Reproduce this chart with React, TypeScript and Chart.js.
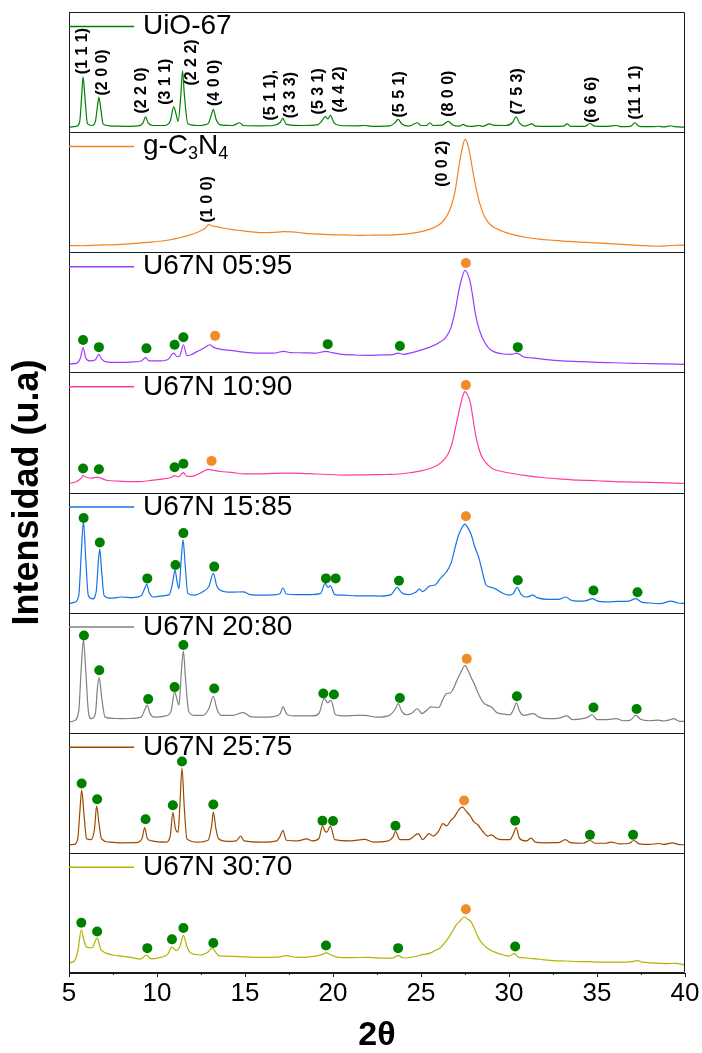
import React, { useEffect, useRef } from "react";
import { Chart, registerables } from "chart.js";

Chart.register(...registerables);

type Pt = [number, number];
type Lbl = [string, number, number];

// ---------- axis / layout constants ----------
const X_MIN = 5;
const X_MAX = 40;
const X_STEP = 5;
const X_MINOR_TICKS = [7.5, 12.5, 17.5, 22.5, 27.5, 32.5, 37.5];
const PANEL_SPAN = 100;
const LEGEND_Y = 88;
const LEGEND_LINE_END = 8.7;
const LEGEND_TEXT_X = 9.2;

// ---------- series (2θ, intensity in % of panel height) ----------
const UIO67: Pt[] = [
  [5.0, 4.2], [5.4, 4.8], [5.6, 8], [5.72, 30], [5.8, 46], [5.9, 30], [6.05, 7], [6.3, 5.5], [6.5, 9], [6.62, 22], [6.7, 29], [6.8, 20], [6.95, 6.5],
  [7.5, 5], [8.2, 4.8], [8.9, 5.2], [9.2, 7.5], [9.35, 12.8], [9.5, 7.5], [9.8, 5.5], [10.4, 5.5], [10.75, 9], [10.95, 21], [11.1, 14], [11.2, 9],
  [11.35, 30], [11.45, 51], [11.55, 32], [11.75, 7], [12.3, 5.5], [12.9, 7], [13.1, 15], [13.2, 19], [13.35, 11], [13.6, 6], [14.3, 5.5], [14.7, 7.8],
  [14.9, 5.5], [15.8, 5.2], [16.6, 5.5], [17.0, 8], [17.15, 11.4], [17.35, 6.5], [18.3, 5.5], [19.1, 6], [19.4, 10], [19.55, 13], [19.7, 11], [19.85, 13.9],
  [20.05, 8], [20.4, 5.5], [21.3, 5.2], [21.8, 5.5], [22.2, 4.8], [23.2, 5.2], [23.5, 7.5], [23.7, 10.6], [23.9, 7], [24.3, 5], [24.8, 7.8], [25.0, 5.5],
  [25.3, 5.5], [25.5, 7.8], [25.7, 5.5], [26.2, 5.8], [26.55, 8.9], [26.8, 6], [27.2, 5], [27.4, 6.4], [27.6, 5], [28.0, 4.8], [28.25, 5.5], [28.5, 4.8],
  [28.9, 6.9], [29.1, 5.8], [29.8, 5.5], [30.2, 8], [30.4, 12.8], [30.6, 7.5], [30.9, 5], [31.3, 6.9], [31.5, 5], [32.4, 4.8], [33.1, 5], [33.3, 6.9],
  [33.5, 4.8], [34.3, 4.8], [34.6, 7.2], [34.85, 5], [35.6, 4.8], [36.1, 5.5], [36.4, 4.5], [36.9, 4.8], [37.15, 7.8], [37.4, 4.8], [38.2, 4.5],
  [38.5, 4.9], [38.8, 4.4], [39.2, 5.3], [39.4, 4.5], [40, 4.2],
];
const GCN: Pt[] = [
  [5.0, 5.6], [5.8, 5.4], [6.6, 6], [7.4, 6.2], [8.2, 6.8], [9.0, 7.6], [9.8, 8.6], [10.6, 10], [11.2, 11.8], [11.8, 14], [12.3, 16.7], [12.7, 19.5],
  [12.95, 23.2], [13.1, 22], [13.3, 21.5], [13.7, 20.3], [14.2, 19], [14.8, 18], [15.4, 17], [16.0, 16.3], [16.6, 16.5], [17.2, 17.2], [17.7, 17],
  [18.3, 16], [18.9, 15.3], [19.5, 14.8], [20.2, 14.5], [20.9, 14.3], [21.6, 14], [22.3, 14.3], [23.0, 14.2], [23.6, 14.6], [24.2, 15.3], [24.8, 16.5],
  [25.3, 18.2], [25.8, 21], [26.2, 25], [26.5, 31], [26.75, 40], [26.95, 52], [27.15, 71], [27.35, 87], [27.5, 94], [27.65, 90], [27.8, 80], [27.95, 67],
  [28.15, 52], [28.35, 40], [28.6, 30], [28.9, 23.5], [29.3, 19.5], [29.8, 16.5], [30.4, 14], [31.0, 12.3], [31.7, 11], [32.5, 10], [33.4, 9],
  [34.4, 8.2], [35.4, 7.4], [36.4, 6.6], [37.4, 5.8], [38.4, 5], [39.2, 5.6], [40, 6],
];
const U05: Pt[] = [
  [5.0, 7], [5.4, 7.5], [5.65, 12], [5.8, 20.7], [5.95, 12], [6.2, 9.5], [6.5, 10.5], [6.7, 15], [6.85, 11], [7.2, 8.5], [7.8, 8.3], [8.5, 8.6],
  [9.1, 9.5], [9.35, 12.3], [9.55, 9.5], [10.0, 9.5], [10.6, 10.5], [10.95, 16], [11.15, 13], [11.3, 14], [11.5, 23], [11.7, 14], [11.9, 14.5],
  [12.3, 17.5], [12.7, 20.5], [13.0, 23], [13.2, 21], [13.5, 19.5], [14.0, 18.5], [14.6, 17.5], [15.2, 16.5], [16.0, 16], [16.6, 16], [17.2, 17.5],
  [17.6, 16.5], [18.3, 16.3], [19.0, 16], [19.6, 17.5], [19.9, 16.5], [20.5, 15], [21.2, 14.5], [22.0, 14.2], [22.8, 14.5], [23.4, 14.8], [23.7, 16],
  [24.0, 15], [24.5, 16.5], [25.0, 18.5], [25.5, 21], [26.0, 24.5], [26.4, 29], [26.7, 37], [26.95, 52], [27.15, 68], [27.35, 80], [27.5, 85],
  [27.65, 82], [27.8, 75], [27.95, 62], [28.1, 48], [28.3, 36], [28.5, 28.5], [28.8, 21], [29.1, 17.5], [29.6, 15.5], [30.1, 15], [30.45, 16],
  [30.8, 13], [31.3, 12], [32.0, 10.8], [33.0, 9.5], [34.0, 9], [35.0, 8.4], [36.0, 8], [37.0, 7.5], [38.0, 7.3], [39.0, 7], [40, 6.7],
];
const U10: Pt[] = [
  [5.0, 7.5], [5.4, 9], [5.7, 12], [5.8, 14], [6.0, 12.5], [6.3, 12], [6.6, 12.8], [6.8, 12], [7.2, 10], [7.8, 9.5], [8.5, 9], [9.0, 9], [9.6, 10],
  [10.2, 11], [10.8, 12.5], [11.0, 14], [11.2, 13], [11.5, 16.5], [11.7, 13.5], [12.0, 13.5], [12.5, 16.5], [12.9, 19.3], [13.2, 18.5], [13.6, 17.5],
  [14.2, 16.8], [15.0, 15.5], [15.8, 15.5], [16.6, 16], [17.4, 16.2], [18.2, 16], [19.0, 15.4], [19.8, 15], [20.6, 14.5], [21.4, 14.6], [22.2, 14.8],
  [23.0, 15], [23.8, 15.4], [24.5, 16.8], [25.0, 18], [25.5, 20], [25.9, 22.5], [26.2, 25.7], [26.5, 31], [26.75, 40], [26.95, 53], [27.15, 67],
  [27.35, 79], [27.5, 84], [27.65, 81], [27.8, 75], [27.95, 62], [28.1, 48], [28.3, 36], [28.5, 28.5], [28.8, 23], [29.1, 19.5], [29.6, 17.5],
  [30.2, 15.8], [31.0, 14], [32.0, 12.3], [33.0, 11.2], [34.0, 10.3], [35.0, 9.8], [36.0, 9], [37.0, 8.7], [38.0, 8.4], [39.0, 8], [40, 7.5],
];
const U15: Pt[] = [
  [5.0, 7.5], [5.3, 8.5], [5.55, 14], [5.7, 50], [5.82, 76], [5.95, 45], [6.1, 14], [6.35, 11.5], [6.55, 18], [6.68, 45], [6.75, 52.8], [6.85, 35],
  [7.0, 14], [7.4, 12], [8.0, 13], [8.6, 12.5], [9.1, 14], [9.3, 20], [9.42, 23.7], [9.55, 17], [9.8, 13], [10.3, 14], [10.7, 15], [10.9, 26],
  [11.02, 35.5], [11.15, 25], [11.25, 20], [11.38, 45], [11.48, 60.6], [11.6, 40], [11.75, 16], [12.1, 14.5], [12.6, 17.3], [12.95, 22], [13.2, 32.7],
  [13.4, 22], [13.6, 18.7], [14.2, 17], [14.9, 17.3], [15.3, 15], [16.0, 14.5], [16.6, 14.8], [17.0, 16], [17.15, 20.7], [17.35, 15.5], [18.0, 15],
  [18.8, 15], [19.3, 16], [19.55, 24.3], [19.72, 21], [19.85, 22.3], [20.1, 15], [20.6, 14.5], [21.3, 14], [22.0, 14], [22.7, 13.8], [23.3, 15],
  [23.65, 21], [23.9, 16.5], [24.3, 15], [24.7, 17], [24.9, 19.5], [25.1, 17.5], [25.5, 22.3], [25.8, 23], [26.1, 28.5], [26.45, 34], [26.7, 41],
  [26.9, 52], [27.1, 63], [27.3, 70], [27.5, 73.7], [27.65, 71], [27.85, 65], [28.05, 55], [28.3, 45], [28.5, 33], [28.7, 23], [29.0, 21], [29.2, 20],
  [29.6, 16.5], [30.0, 14.5], [30.25, 16], [30.45, 21], [30.7, 15], [31.0, 13], [31.35, 14.5], [31.6, 12.5], [32.2, 11], [32.8, 11], [33.25, 13],
  [33.5, 10.5], [33.9, 9.5], [34.4, 10], [34.75, 11.7], [35.0, 9.8], [35.6, 9], [36.2, 9.3], [36.8, 9.5], [37.2, 11.7], [37.5, 9], [38.0, 8],
  [38.6, 7.5], [39.2, 9.5], [39.6, 8], [40, 7.5],
];
const U20: Pt[] = [
  [5.0, 9], [5.3, 10], [5.55, 18], [5.7, 55], [5.82, 77.4], [5.95, 52], [6.1, 18], [6.25, 11.7], [6.5, 16], [6.62, 38], [6.72, 46], [6.85, 30],
  [7.05, 13], [7.5, 12], [8.0, 11.7], [8.6, 12], [9.1, 13], [9.3, 19], [9.45, 23], [9.6, 16], [9.85, 13], [10.5, 14], [10.8, 18], [11.0, 34],
  [11.15, 27], [11.25, 23], [11.38, 50], [11.5, 68], [11.62, 45], [11.8, 18], [12.1, 14.5], [12.6, 14.5], [12.95, 20], [13.2, 30.4], [13.4, 20],
  [13.65, 14.5], [14.3, 14.5], [14.9, 16.8], [15.3, 13.5], [16.0, 13], [16.6, 13.5], [17.0, 16], [17.15, 21.5], [17.4, 15], [18.0, 14], [18.8, 14],
  [19.2, 16], [19.5, 28.5], [19.7, 25], [19.88, 27], [20.15, 15], [20.7, 14], [21.3, 14.5], [21.8, 14.5], [22.5, 13], [23.2, 14.5], [23.55, 20],
  [23.7, 24.3], [23.9, 18], [24.15, 15], [24.5, 16.5], [24.8, 20], [25.05, 16], [25.35, 19], [25.55, 21.5], [26.0, 21], [26.25, 28], [26.45, 32.7],
  [26.65, 33], [26.85, 37], [27.05, 44], [27.25, 50], [27.5, 55.9], [27.7, 51], [27.85, 46], [28.05, 40], [28.3, 31.3], [28.55, 25], [28.75, 23],
  [29.0, 21.5], [29.3, 16.8], [29.7, 15.5], [30.05, 15], [30.25, 19], [30.42, 24.9], [30.6, 18], [30.85, 14.5], [31.4, 16], [31.7, 13], [32.2, 11.7],
  [32.8, 12], [33.3, 14], [33.6, 11], [34.1, 11.5], [34.5, 13], [34.72, 15], [35.0, 11], [35.6, 11], [36.1, 11.7], [36.5, 10], [36.9, 10.5],
  [37.2, 14.5], [37.5, 11], [38.0, 10], [38.5, 10.5], [38.8, 9.8], [39.2, 11], [39.35, 11.7], [39.7, 9.5], [40, 9.5],
];
const U25: Pt[] = [
  [5.0, 6.7], [5.3, 7], [5.5, 12], [5.62, 35], [5.72, 52.2], [5.85, 32], [6.0, 11.7], [6.25, 11], [6.45, 20], [6.57, 39], [6.7, 25], [6.85, 11.7],
  [7.3, 9], [8.0, 8.4], [8.8, 8.5], [9.15, 12], [9.3, 21], [9.45, 12], [9.7, 10], [10.5, 9], [10.75, 14], [10.9, 33.5], [11.05, 20], [11.2, 17.3],
  [11.3, 40], [11.42, 70.4], [11.55, 38], [11.7, 11.7], [12.3, 9], [12.9, 10.5], [13.1, 22], [13.2, 34], [13.35, 20], [13.5, 11.7], [14.0, 9.5],
  [14.5, 10], [14.75, 14], [14.95, 10], [16.0, 9], [16.8, 10], [17.0, 14], [17.15, 18.7], [17.35, 10.5], [18.0, 10], [18.5, 11.7], [18.8, 10],
  [19.2, 12], [19.4, 22.3], [19.55, 18], [19.65, 17.3], [19.85, 22.3], [20.1, 11], [21.0, 10], [21.8, 11.2], [22.3, 9], [23.0, 9.5], [23.4, 13],
  [23.55, 17.9], [23.8, 11], [24.3, 11], [24.85, 16], [25.1, 11], [25.45, 16], [25.7, 14], [26.0, 18], [26.25, 24.3], [26.45, 22.5], [26.7, 27],
  [26.9, 30], [27.15, 36], [27.35, 38.3], [27.55, 35], [27.8, 30.7], [28.0, 26], [28.25, 23], [28.5, 18], [28.8, 14], [29.0, 15], [29.3, 12],
  [29.6, 11], [30.05, 11], [30.25, 16], [30.4, 21], [30.6, 12], [31.0, 10], [31.25, 12.3], [31.5, 9], [32.0, 8.4], [32.8, 8.5], [33.2, 11],
  [33.5, 8.5], [34.2, 8], [34.6, 10.3], [34.9, 8], [35.5, 8], [35.8, 9], [36.3, 7.5], [36.8, 7.8], [37.1, 10.3], [37.4, 7.5], [38.0, 7], [38.5, 7.8],
  [38.8, 7], [39.3, 8.4], [39.6, 7], [40, 6.7],
];
const U30: Pt[] = [
  [5.0, 8.4], [5.3, 10], [5.5, 18], [5.7, 36], [5.85, 27], [6.0, 21.5], [6.3, 21], [6.6, 29], [6.8, 20], [7.0, 17.3], [7.5, 15], [8.0, 14], [8.5, 13],
  [9.1, 11.7], [9.4, 15], [9.65, 11.7], [10.2, 13], [10.6, 15.5], [10.85, 21.5], [11.1, 18.7], [11.3, 22], [11.5, 31.3], [11.7, 22], [11.9, 16.8],
  [12.5, 15], [12.9, 17.5], [13.15, 20.7], [13.35, 17], [13.5, 14.5], [14.0, 14], [15.0, 13.5], [16.0, 13], [17.0, 13.5], [17.3, 14.5], [18.0, 13],
  [19.0, 14], [19.4, 15.5], [19.6, 16.8], [19.9, 15], [20.3, 13], [21.0, 12.8], [22.0, 13], [23.0, 12.3], [23.4, 12.5], [23.7, 14.5], [24.0, 12.5],
  [24.6, 13.5], [25.0, 15], [25.5, 16.5], [25.8, 18.7], [26.1, 21], [26.3, 24.3], [26.55, 29], [26.8, 35], [27.0, 40], [27.2, 43], [27.45, 46.6],
  [27.65, 45], [27.85, 42.5], [28.0, 38], [28.2, 31.3], [28.45, 25], [28.7, 21.5], [29.0, 18.5], [29.3, 16.8], [29.7, 15], [30.0, 14], [30.3, 16.2],
  [30.55, 13], [31.0, 12.5], [31.5, 11.7], [32.0, 11], [32.5, 10.3], [33.2, 10], [34.0, 9.5], [34.5, 9.5], [35.0, 9], [35.8, 9], [36.5, 9], [37.0, 9.5],
  [37.3, 10.3], [37.6, 9], [38.0, 8.5], [38.6, 8], [39.0, 7.8], [39.5, 8], [40, 6.7],
];

// ---------- phase markers (green = UiO-67, orange = g-C3N4) ----------
const U05_GREEN: Pt[] = [[5.8, 27], [6.7, 21], [9.4, 20], [11.0, 23], [11.5, 29.3], [19.7, 23.5], [23.8, 22], [30.5, 21]];
const U05_ORANGE: Pt[] = [[13.3, 30.4], [27.55, 91]];
const U10_GREEN: Pt[] = [[5.8, 20], [6.7, 19.3], [11.0, 21], [11.5, 24]];
const U10_ORANGE: Pt[] = [[13.1, 26.3], [27.55, 89.4]];
const U15_GREEN: Pt[] = [[5.83, 78.8], [6.75, 58.4], [9.45, 28.5], [11.05, 39.7], [11.5, 66.2], [13.25, 38.3], [19.6, 28.5], [20.15, 28.5], [23.75, 26.5], [30.5, 27], [34.8, 18.4], [37.3, 17]];
const U15_ORANGE: Pt[] = [[27.55, 80.2]];
const U20_GREEN: Pt[] = [[5.85, 81], [6.72, 52], [9.5, 28], [11.0, 38], [11.5, 73], [13.25, 36.9], [19.45, 32.7], [20.05, 31.8], [23.8, 29], [30.45, 30.4], [34.8, 21], [37.25, 19.8]];
const U20_ORANGE: Pt[] = [[27.6, 61.5]];
const U25_GREEN: Pt[] = [[5.72, 57.8], [6.6, 44.7], [9.35, 28], [10.9, 39.7], [11.42, 76], [13.2, 40.2], [19.4, 26.8], [20.0, 26.5], [23.55, 22.6], [30.35, 26.8], [34.6, 15], [37.05, 15]];
const U25_ORANGE: Pt[] = [[27.45, 43.6]];
const U30_GREEN: Pt[] = [[5.7, 41.9], [6.6, 34.6], [9.45, 20.7], [10.85, 28], [11.5, 37.4], [13.2, 25], [19.6, 22.9], [23.7, 20.7], [30.35, 22]];
const U30_ORANGE: Pt[] = [[27.55, 53]];

// ---------- Miller index labels (text, 2θ, height %) ----------
const UIO_LABELS: Lbl[] = [
  ["(1 1 1)", 5.76, 67.5], ["(2 0 0)", 6.9, 49.7], ["(2 2 0)", 9.1, 34.7], ["(3 1 1)", 10.47, 42], ["(2 2 2)", 11.97, 58], ["(4 0 0)", 13.3, 41],
  ["(5 1 1),", 16.45, 30.8], ["(3 3 3)", 17.6, 30.8], ["(5 3 1)", 19.2, 34], ["(4 4 2)", 20.4, 35.5], ["(5 5 1)", 23.77, 31.4], ["(8 0 0)", 26.55, 32],
  ["(7 5 3)", 30.5, 34], ["(6 6 6)", 34.7, 27], ["(11 1 1)", 37.2, 33],
];
const GCN_LABELS: Lbl[] = [["(1 0 0)", 12.9, 44], ["(0 0 2)", 26.2, 73.7]];

const SERIES_NAMES = ["UiO-67", "g-C_3N_4", "U67N 05:95", "U67N 10:90", "U67N 15:85", "U67N 20:80", "U67N 25:75", "U67N 30:70"];
const SERIES_COLORS = ["#008000", "#F58220", "#9D3BFF", "#FF3C9E", "#1473E6", "#808080", "#9C4A00", "#B2B200"];
const SERIES_DATA = [UIO67, GCN, U05, U10, U15, U20, U25, U30];
const GREEN_MARKS: Pt[][] = [[], [], U05_GREEN, U10_GREEN, U15_GREEN, U20_GREEN, U25_GREEN, U30_GREEN];
const ORANGE_MARKS: Pt[][] = [[], [], U05_ORANGE, U10_ORANGE, U15_ORANGE, U20_ORANGE, U25_ORANGE, U30_ORANGE];
const PANEL_LABELS: Lbl[][] = [UIO_LABELS, GCN_LABELS, [], [], [], [], [], []];

const GREEN = "#008000";
const ORANGE = "#F28C28";
const SANS = '"Liberation Sans", Arial, sans-serif';

const panelBase = (i: number) => (SERIES_NAMES.length - 1 - i) * PANEL_SPAN;

function drawRich(ctx: CanvasRenderingContext2D, text: string, x: number, y: number, size: number) {
  const parts = text.split(/(_\d)/).filter((s) => s.length > 0);
  let cx = x;
  for (const p of parts) {
    if (p.startsWith("_")) {
      ctx.font = `${Math.round(size * 0.65)}px ${SANS}`;
      ctx.fillText(p.slice(1), cx, y + size * 0.28);
      cx += ctx.measureText(p.slice(1)).width;
    } else {
      ctx.font = `${size}px ${SANS}`;
      ctx.fillText(p, cx, y);
      cx += ctx.measureText(p).width;
    }
  }
}

const overlayPlugin = {
  id: "overlay",
  afterDraw(chart: any) {
    const { ctx, chartArea: a, scales } = chart;
    const xs = scales.x;
    const ys = scales.y;
    const n = SERIES_NAMES.length;
    ctx.save();
    ctx.strokeStyle = "#1a1a1a";
    ctx.lineWidth = 1;
    for (let i = 1; i < n; i++) {
      const py = Math.round(ys.getPixelForValue(i * PANEL_SPAN)) + 0.5;
      ctx.beginPath();
      ctx.moveTo(a.left, py);
      ctx.lineTo(a.right, py);
      ctx.stroke();
    }
    ctx.beginPath();
    ctx.rect(Math.round(a.left) + 0.5, Math.round(a.top) + 0.5, Math.round(a.right - a.left) - 1, Math.round(a.bottom - a.top) - 1);
    ctx.stroke();
    for (const v of X_MINOR_TICKS) {
      const px = Math.round(xs.getPixelForValue(v)) + 0.5;
      ctx.beginPath();
      ctx.moveTo(px, a.bottom);
      ctx.lineTo(px, a.bottom + 2);
      ctx.stroke();
    }
    // legends
    SERIES_NAMES.forEach((name, i) => {
      const py = ys.getPixelForValue(panelBase(i) + LEGEND_Y);
      ctx.strokeStyle = SERIES_COLORS[i];
      ctx.lineWidth = 1.5;
      ctx.beginPath();
      ctx.moveTo(a.left, py);
      ctx.lineTo(xs.getPixelForValue(LEGEND_LINE_END), py);
      ctx.stroke();
      ctx.fillStyle = "#000";
      ctx.textAlign = "left";
      ctx.textBaseline = "middle";
      drawRich(ctx, name, xs.getPixelForValue(LEGEND_TEXT_X), py, 28);
    });
    // Miller index labels
    ctx.fillStyle = "#000";
    ctx.font = `bold 16px ${SANS}`;
    ctx.textAlign = "center";
    ctx.textBaseline = "middle";
    PANEL_LABELS.forEach((labels, i) => {
      for (const [t, x, y] of labels) {
        ctx.save();
        ctx.translate(xs.getPixelForValue(x), ys.getPixelForValue(panelBase(i) + y));
        ctx.rotate(-Math.PI / 2);
        ctx.fillText(t, 0, 0);
        ctx.restore();
      }
    });
    ctx.restore();
  },
};

export default function App() {
  const ref = useRef<HTMLCanvasElement | null>(null);
  useEffect(() => {
    if (!ref.current) return;
    const datasets: any[] = [];
    SERIES_DATA.forEach((pts, i) => {
      const base = panelBase(i);
      datasets.push({
        label: SERIES_NAMES[i] + " green",
        data: GREEN_MARKS[i].map(([x, y]) => ({ x, y: y + base })),
        showLine: false,
        pointRadius: 5,
        pointBackgroundColor: GREEN,
        pointBorderWidth: 0,
        borderColor: GREEN,
        order: 0,
      });
      datasets.push({
        label: SERIES_NAMES[i] + " orange",
        data: ORANGE_MARKS[i].map(([x, y]) => ({ x, y: y + base })),
        showLine: false,
        pointRadius: 5,
        pointBackgroundColor: ORANGE,
        pointBorderWidth: 0,
        borderColor: ORANGE,
        order: 0,
      });
      datasets.push({
        label: SERIES_NAMES[i],
        data: pts.map(([x, y]) => ({ x, y: y + base })),
        borderColor: SERIES_COLORS[i],
        borderWidth: 1.2,
        pointRadius: 0,
        cubicInterpolationMode: "monotone",
        fill: false,
        order: 1,
      });
    });
    const chart = new Chart(ref.current, {
      type: "line",
      data: { datasets },
      plugins: [overlayPlugin],
      options: {
        animation: false,
        responsive: false,
        devicePixelRatio: 1,
        layout: { padding: { left: 0, right: 17, top: 12, bottom: 0 } },
        plugins: { legend: { display: false }, tooltip: { enabled: false } },
        scales: {
          x: {
            type: "linear",
            min: X_MIN,
            max: X_MAX,
            ticks: { stepSize: X_STEP, color: "#000", font: { family: SANS, size: 26 }, padding: 1, maxRotation: 0 },
            grid: { display: true, drawOnChartArea: false, drawTicks: true, tickLength: 4, color: "#1a1a1a" },
            border: { display: true, color: "#1a1a1a" },
            title: { display: true, text: "2θ", color: "#000", font: { family: SANS, size: 34, weight: "bold", lineHeight: 1 }, padding: { top: 0, bottom: 0 } },
            afterFit: (s: any) => { s.height = 80; },
          },
          y: {
            type: "linear",
            min: 0,
            max: SERIES_NAMES.length * PANEL_SPAN,
            ticks: { display: false },
            grid: { display: false },
            border: { display: true, color: "#1a1a1a" },
            title: { display: true, text: "Intensidad (u.a)", color: "#000", font: { family: SANS, size: 36, weight: "bold", lineHeight: 1 }, padding: { top: 10, bottom: 0 } },
            afterFit: (s: any) => { s.width = 69; },
          },
        },
      },
    });
    return () => chart.destroy();
  }, []);
  return (
    <div style={{ position: "absolute", left: 0, top: 0, width: 702, height: 1053, background: "#fff" }}>
      <canvas ref={ref} width={702} height={1053} style={{ display: "block" }} />
    </div>
  );
}
